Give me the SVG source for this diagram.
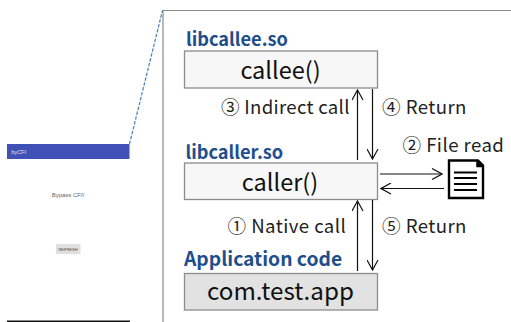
<svg xmlns="http://www.w3.org/2000/svg" width="511" height="322" viewBox="0 0 511 322">
<style>
text{font-family:"Noto Sans CJK KR","Noto Sans",sans-serif}
.ph{font-family:"Liberation Sans",Arial,sans-serif}
.lib{font-size:18.200px;font-weight:700;fill:#1f4e8c}
.fn{font-size:23.500px;fill:#111;text-anchor:middle}
.lbl{font-size:18.600px;fill:#222;letter-spacing:.45px}
.box{stroke:#8c8c8c;stroke-width:1.3}
.c{fill:none;stroke:#111;stroke-width:1.2}
</style>
<defs>
<marker id="a" viewBox="0 0 12 12" refX="11" refY="6" markerWidth="12" markerHeight="12" markerUnits="userSpaceOnUse" orient="auto"><path d="M1 .5 11 6 1 11.500" fill="none" stroke="#111" stroke-width="1.200"/></marker>
</defs>
<rect width="511" height="322" fill="#fff"/>
<g id="phone">
<rect x="7" y="144" width="122.500" height="15" fill="#3f51b5"/>
<text class="ph" x="11.500" y="154" font-size="5.500" fill="#dfe3f5">byCFI</text>
<text class="ph" x="68" y="197" font-size="6" fill="#666" text-anchor="middle">Bypass CFI!</text>
<rect x="56" y="244" width="24.500" height="10" fill="#e0e0e0"/>
<text class="ph" x="68" y="250.500" font-size="4" fill="#444" text-anchor="middle">REFRESH</text>
<rect x="7" y="320.500" width="123" height="1.500" fill="#111"/>
</g>
<g id="frame" fill="none">
<path d="M163 322V10.500H511" stroke="#8a8a8a" stroke-width="1.200"/>
<path d="M129.500 144 162.500 10.500" stroke="#4a7ebb" stroke-width="1.200" stroke-dasharray="3.500 1.500"/>
</g>
<g id="callee">
<text class="lib" x="186" y="45.500">libcallee.so</text>
<rect class="box" x="184.500" y="51" width="193" height="37" fill="#f7f7f7"/>
<text class="fn" x="280.500" y="78.500">callee()</text>
</g>
<g id="caller">
<text class="lib" x="185.500" y="158.500">libcaller.so</text>
<rect class="box" x="184.500" y="163" width="193" height="36.500" fill="#f7f7f7"/>
<text class="fn" x="280" y="190.500">caller()</text>
</g>
<g id="app">
<text class="lib" x="184" y="265.500" style="font-size:19.300px">Application code</text>
<rect class="box" x="184.500" y="273.500" width="193" height="36.500" fill="#e2e2e2"/>
<text class="fn" x="280.500" y="299.500" style="font-size:24.200px">com.test.app</text>
</g>
<g id="file">
<path d="M449 160.500H478L483 165.500V198H449Z" fill="#fff" stroke="#000" stroke-width="2.400"/>
<path d="M477 160.500V166.500H483" fill="#000" stroke="#000" stroke-width="1.500"/>
<path d="M454 172.500H477M454 178H477M454 184H477M454 190H477" stroke="#000" stroke-width="2.200"/>
</g>
<g id="connectors">
<path class="c" d="M357.500 160V90" marker-end="url(#a)"/>
<path class="c" d="M372.500 89V159" marker-end="url(#a)"/>
<path class="c" d="M380 174H442" marker-end="url(#a)"/>
<path class="c" d="M444 188.500H381" marker-end="url(#a)"/>
<path class="c" d="M357.500 271V201" marker-end="url(#a)"/>
<path class="c" d="M372.500 200V270" marker-end="url(#a)"/>
</g>
<g id="labels">
<text class="lbl" x="221" y="114" style="letter-spacing:.3px">③ Indirect call</text>
<text class="lbl" x="382" y="114">④ Return</text>
<text class="lbl" x="402.500" y="152">② File read</text>
<text class="lbl" x="227.500" y="233">① Native call</text>
<text class="lbl" x="382" y="233">⑤ Return</text>
</g>
</svg>
